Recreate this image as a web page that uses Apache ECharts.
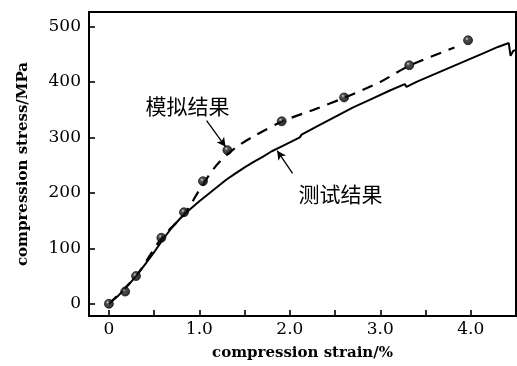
<!DOCTYPE html>
<html>
<head>
<meta charset="utf-8">
<script src="https://cdn.jsdelivr.net/npm/echarts@6/dist/echarts.min.js"></script>
<style>html,body{margin:0;padding:0;background:#fff;}#c{width:517px;height:366px;}</style>
</head>
<body>
<div id="c"></div>
<script>
// Test result (solid line): strain %, stress MPa
const testStrain = [0, 0.1, 0.2, 0.3, 0.4, 0.5, 0.6, 0.7, 0.8, 0.9, 1.0, 1.1, 1.2, 1.3, 1.4, 1.5, 1.6, 1.7, 1.8, 1.9, 2.0, 2.11, 2.13, 2.3, 2.5, 2.7, 2.9, 3.1, 3.27, 3.29, 3.4, 3.6, 3.8, 4.0, 4.13, 4.15, 4.3, 4.42, 4.44, 4.47, 4.5];
const testStress = [0, 14, 31, 50, 71, 93, 117, 138, 156, 171, 185, 198, 211, 224, 235, 246, 256, 265, 275, 283, 291, 300, 305, 320, 337, 354, 369, 384, 396, 391, 400, 414, 428, 442, 451, 454, 463, 470, 447, 456, 457];
// Simulated result (dashed curve)
const simCurveStrain = [0, 0.3, 0.58, 0.84, 1.0, 1.17, 1.3, 1.45, 1.6, 1.92, 2.3, 2.61, 3.0, 3.32, 3.82];
const simCurveStress = [0, 50, 118, 163, 205, 246, 268, 287, 302, 329, 352, 372, 400, 429, 462];
// Simulated result points (markers)
const simPtStrain = [0, 0.18, 0.3, 0.58, 0.83, 1.04, 1.31, 1.91, 2.6, 3.32, 3.97];
const simPtStress = [0, 22, 50, 119, 165, 221, 277, 329, 372, 430, 475];
// Ticks
const xTicks = [0, 0.5, 1.0, 1.5, 2.0, 2.5, 3.0, 3.5, 4.0];
const xLabels = [0, 1.0, 2.0, 3.0, 4.0];
const yTicks = [0, 100, 200, 300, 400, 500];
const simLabel = '模拟结果';
const testLabel = '测试结果';

const zip = (a, b) => a.map((v, i) => [v, b[i]]);
const serif = 'DejaVu Serif';
const cjk = 'Noto Sans CJK SC';

const chart = echarts.init(document.getElementById('c'));
chart.setOption({
  animation: false,
  backgroundColor: '#fff',
  grid: { left: 89, right: 1, top: 12, bottom: 47, show: true, borderColor: '#000', borderWidth: 2 },
  xAxis: {
    type: 'value', min: -0.22, max: 4.5,
    name: 'compression strain/%', nameLocation: 'middle', nameGap: 30,
    nameTextStyle: { fontFamily: serif, fontWeight: 'bold', fontSize: 15, color: '#000' },
    axisLine: { show: true, onZero: false, lineStyle: { color: '#000', width: 2 } },
    axisTick: { show: true, inside: true, length: 6, lineStyle: { color: '#000', width: 1.6 }, customValues: xTicks },
    axisLabel: { fontFamily: serif, fontSize: 17, color: '#000', margin: 5, customValues: xLabels,
      formatter: v => v === 0 ? '0' : v.toFixed(1) },
    splitLine: { show: false }
  },
  yAxis: {
    type: 'value', min: -22, max: 526,
    name: 'compression stress/MPa', nameLocation: 'middle', nameGap: 58, nameRotate: 90,
    nameTextStyle: { fontFamily: serif, fontWeight: 'bold', fontSize: 15, color: '#000' },
    axisLine: { show: true, onZero: false, lineStyle: { color: '#000', width: 2 } },
    axisTick: { show: true, inside: true, length: 6, lineStyle: { color: '#000', width: 1.6 }, customValues: yTicks },
    axisLabel: { fontFamily: serif, fontSize: 17, color: '#000', margin: 8, customValues: yTicks },
    splitLine: { show: false }
  },
  series: [
    {
      type: 'line', data: zip(testStrain, testStress), symbol: 'none', smooth: false,
      lineStyle: { color: '#000', width: 2 }, z: 3,
      markLine: {
        silent: true, symbol: ['none', 'arrow'], symbolSize: [7, 9],
        lineStyle: { color: '#000', width: 1.3, type: 'solid' }, label: { show: false },
        data: [
          [{ coord: [1.08, 330] }, { coord: [1.29, 283] }],
          [{ coord: [2.03, 235] }, { coord: [1.86, 276] }]
        ]
      }
    },
    {
      type: 'line', data: zip(simCurveStrain, simCurveStress), symbol: 'none', smooth: 0.3,
      lineStyle: { color: '#000', width: 2.2, type: [11, 8] }, z: 3
    },
    {
      type: 'scatter', data: zip(simPtStrain, simPtStress), symbol: 'circle', symbolSize: 9,
      itemStyle: {
        color: new echarts.graphic.RadialGradient(0.38, 0.35, 0.6, [
          { offset: 0, color: '#ccc' }, { offset: 0.3, color: '#222' }, { offset: 1, color: '#000' }
        ]),
        borderColor: '#000', borderWidth: 0.8
      }, z: 4,
      markPoint: {
        silent: true, symbol: 'circle', symbolSize: 0,
        label: { show: true, position: 'inside', fontFamily: cjk, fontSize: 21, color: '#000' },
        data: [
          { coord: [0.87, 356], value: simLabel, label: { formatter: simLabel } },
          { coord: [2.56, 198], value: testLabel, label: { formatter: testLabel } }
        ]
      }
    }
  ]
});
</script>
</body>
</html>
